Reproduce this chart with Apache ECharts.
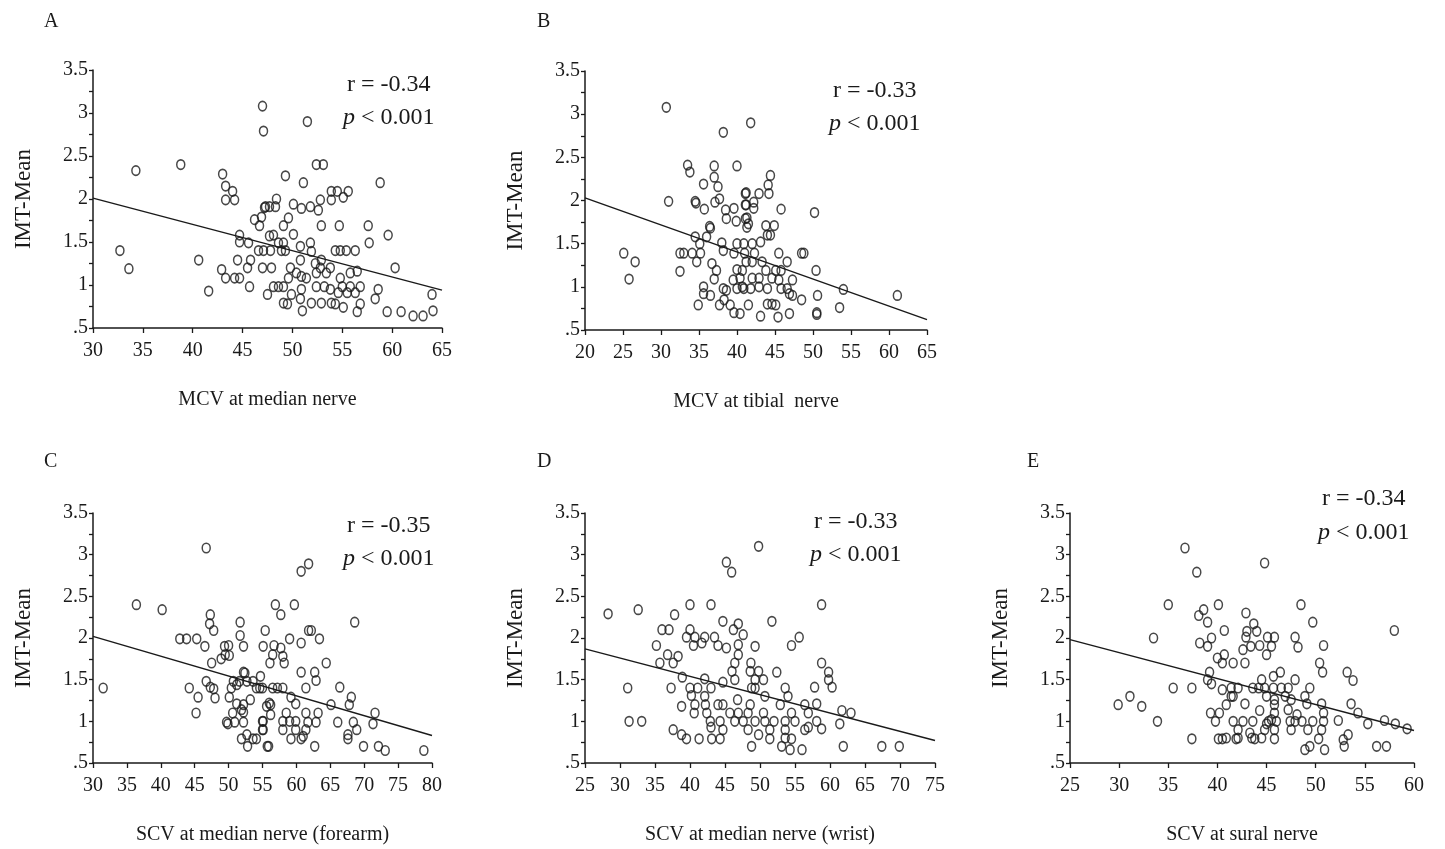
<!DOCTYPE html>
<html>
<head>
<meta charset="utf-8">
<script src="https://cdn.jsdelivr.net/npm/echarts@6/dist/echarts.min.js"></script>
<style>
  html, body { margin: 0; padding: 0; background: #fff; }
  #main { width: 1445px; height: 849px; }
</style>
</head>
<body>
<div id="main"></div>
<script>
// IMT-Mean vs nerve conduction velocity, five panels
var yTicks = [0.5, 1, 1.5, 2, 2.5, 3, 3.5];

var ptsA = [[47,3.08],[47.1,2.79],[34.3,2.33],[38.8,2.4],[43,2.29],[43.3,2.15],[44,2.09],[43.3,1.99],[44.2,1.99],[47.2,1.9],
  [46.2,1.76],[46.9,1.79],[46.7,1.69],[44.7,1.58],[44.7,1.5],[45.6,1.49],[47.7,1.57],[32.7,1.4],[33.6,1.19],[40.6,1.29],
  [44.5,1.29],[45.8,1.29],[45.5,1.2],[46.6,1.4],[47.1,1.4],[47,1.2],[42.9,1.18],[43.3,1.08],[44.2,1.08],[44.7,1.08],
  [45.7,0.98],[41.6,0.93],[47.5,0.89],[51.5,2.9],[52.4,2.4],[53.1,2.4],[49.3,2.27],[51.1,2.19],[58.8,2.19],[53.9,2.09],
  [54.5,2.09],[55.6,2.09],[53.9,1.99],[55.1,2.02],[48.4,2.0],[48.3,1.91],[47.7,1.91],[47.3,1.91],[50.1,1.94],[50.9,1.89],
  [51.8,1.91],[52.6,1.87],[52.8,1.99],[49.6,1.78],[49.1,1.69],[52.9,1.69],[54.7,1.69],[57.6,1.69],[59.6,1.58],[57.7,1.49],
  [48.1,1.58],[50.1,1.59],[48.6,1.49],[49.1,1.49],[50.8,1.45],[51.8,1.49],[47.8,1.4],[48.9,1.4],[49.3,1.4],[51.9,1.39],
  [54.3,1.4],[54.8,1.4],[55.4,1.4],[56.3,1.4],[50.8,1.29],[52.3,1.25],[52.9,1.29],[47.9,1.2],[49.8,1.2],[52.8,1.2],
  [53.8,1.2],[60.3,1.2],[50.4,1.14],[50.9,1.1],[52.4,1.14],[53.4,1.14],[55.8,1.14],[56.5,1.16],[49.6,1.08],[51.4,1.08],
  [54.8,1.08],[48.1,0.98],[48.6,0.98],[49.1,0.98],[50.9,0.95],[52.4,0.98],[53.2,0.98],[53.8,0.95],[55,0.98],[55.8,0.98],
  [56.8,0.98],[58.6,0.95],[54.6,0.91],[55.5,0.91],[56.3,0.91],[49.9,0.89],[64,0.89],[58.3,0.84],[49.1,0.79],[49.5,0.78],
  [50.8,0.84],[51.9,0.79],[52.9,0.79],[53.9,0.79],[54.3,0.78],[56.8,0.78],[51,0.7],[55.1,0.74],[56.5,0.69],[59.5,0.69],
  [60.9,0.69],[62.1,0.64],[63.1,0.64],[64.1,0.7]];

var ptsB = [[30.7,3.08],[38.2,2.79],[41.8,2.9],[33.5,2.41],[33.8,2.33],[37,2.4],[40,2.4],[37,2.27],[35.6,2.19],[37.5,2.16],
  [31,1.99],[34.5,1.99],[34.6,1.97],[35.7,1.9],[37.1,1.98],[37.7,2.02],[41.2,2.09],[41.2,1.95],[38.5,1.89],[39.6,1.91],
  [38.6,1.79],[39.9,1.76],[41.3,1.8],[36.4,1.7],[36.5,1.68],[36,1.58],[34.5,1.58],[35.1,1.5],[41.3,1.69],[38,1.51],
  [40,1.5],[40.9,1.5],[25.1,1.39],[26.6,1.29],[25.8,1.09],[32.5,1.39],[33,1.39],[34.1,1.39],[35.2,1.39],[34.7,1.29],
  [38.2,1.42],[39.6,1.39],[41,1.39],[41.2,1.29],[32.5,1.18],[36.7,1.27],[37.3,1.19],[40,1.2],[40.7,1.19],[37,1.09],
  [39.5,1.08],[40.4,1.1],[35.6,1],[35.6,0.92],[36.5,0.9],[38.2,0.98],[38.6,0.96],[40,0.98],[40.9,0.98],[34.9,0.79],
  [37.7,0.79],[38.3,0.85],[39.1,0.79],[39.6,0.7],[40.4,0.69],[41.5,0.79],[41.8,0.98],[44.4,2.29],[44.1,2.18],[44.2,2.08],
  [42.9,2.08],[41.1,2.08],[42.2,1.98],[42.2,1.91],[41.1,1.95],[45.8,1.9],[50.2,1.86],[41.1,1.79],[41.5,1.73],[43.8,1.71],
  [44.9,1.71],[44,1.6],[44.4,1.6],[43.1,1.52],[42,1.5],[42.3,1.39],[45.5,1.39],[48.5,1.39],[48.8,1.39],[46.6,1.29],
  [50.4,1.19],[42,1.29],[43.3,1.29],[45.8,1.19],[45.1,1.19],[43.8,1.19],[42.9,1.1],[42,1.1],[44.6,1.1],[45.5,1.08],
  [47.3,1.08],[40.7,1.0],[42.9,1.0],[44,0.98],[45.8,0.98],[46.6,0.98],[46.9,0.92],[47.3,0.9],[48.5,0.85],[50.6,0.9],
  [54,0.97],[61.1,0.9],[44,0.8],[44.6,0.8],[45.1,0.79],[53.5,0.76],[50.5,0.7],[50.5,0.68],[43.1,0.66],[45.4,0.65],
  [46.9,0.69]];

var ptsC = [[46.7,3.08],[36.4,2.4],[40.2,2.34],[47.3,2.28],[47.2,2.17],[47.8,2.09],[51.7,2.19],[55.4,2.09],[42.8,1.99],[43.8,1.99],
  [45.3,1.99],[46.5,1.9],[51.7,2.03],[52.2,1.9],[55.1,1.9],[49.4,1.9],[50,1.91],[49.5,1.8],[50.1,1.79],[48.9,1.75],
  [47.5,1.7],[56.1,1.7],[52.2,1.59],[52.4,1.58],[50.7,1.48],[51.6,1.48],[52.7,1.48],[53.6,1.48],[54.7,1.54],[46.7,1.48],
  [31.5,1.4],[44.2,1.4],[47.3,1.41],[47.8,1.39],[50.4,1.4],[51.2,1.44],[54.1,1.4],[54.6,1.4],[45.5,1.29],[48,1.28],
  [50.1,1.29],[51.2,1.21],[52.2,1.2],[53.2,1.26],[45.2,1.1],[50.6,1.1],[51.9,1.14],[52.2,1.11],[49.7,0.99],[49.9,0.97],
  [50.9,0.99],[52.2,0.99],[55.1,1.0],[55.6,1.18],[51.9,0.79],[52.7,0.84],[52.8,0.7],[53.6,0.79],[54.1,0.79],[55.9,0.7],
  [55.1,0.9],[60.7,2.8],[61.8,2.89],[56.9,2.4],[57.7,2.28],[59.7,2.4],[68.6,2.19],[61.8,2.09],[62.2,2.09],[63.4,1.99],
  [59,1.99],[60.7,1.94],[56.7,1.91],[57.7,1.88],[56.5,1.8],[58,1.78],[58.2,1.7],[64.4,1.7],[60.7,1.59],[62.7,1.59],
  [62.9,1.49],[61.4,1.4],[66.4,1.41],[55,1.4],[56.5,1.4],[57.2,1.4],[58,1.4],[59.2,1.29],[65.1,1.2],[68.1,1.29],
  [67.8,1.2],[56,1.22],[56.2,1.2],[58.5,1.1],[59.9,1.21],[61.4,1.1],[63.2,1.1],[71.6,1.1],[56.2,1.08],[55,1],
  [55,0.9],[58,1],[59,1],[59.9,1],[61.7,0.99],[62.9,0.99],[66.1,0.99],[68.4,0.99],[68.9,0.9],[71.3,0.97],
  [58,0.9],[59.9,0.9],[61.4,0.9],[67.6,0.84],[67.6,0.79],[59.2,0.79],[60.7,0.79],[61,0.82],[55.7,0.7],[62.7,0.7],
  [69.9,0.7],[72.1,0.7],[73.1,0.65],[78.8,0.65]];

var ptsD = [[45.2,2.91],[45.95,2.79],[49.8,3.1],[28.3,2.29],[32.6,2.34],[37.8,2.28],[40,2.4],[43,2.4],[44.7,2.2],[36,2.1],
  [37,2.1],[40,2.1],[39.5,2.01],[40.7,2.01],[41.7,1.94],[40.5,1.91],[42.1,2.01],[43.5,2.01],[44,1.91],[45.2,1.88],
  [46.2,2.1],[46.9,2.17],[47.6,2.04],[46.9,1.92],[46.9,1.8],[46.4,1.7],[46,1.6],[46.4,1.5],[49.3,1.9],[35.2,1.91],
  [36.8,1.8],[38.3,1.78],[35.7,1.7],[37.6,1.7],[48.7,1.7],[48.6,1.6],[38.9,1.53],[42.1,1.51],[44.7,1.47],[31.1,1.4],
  [37.3,1.4],[40,1.4],[41.1,1.4],[43,1.4],[40.2,1.31],[42.1,1.3],[46.8,1.26],[38.8,1.18],[40.7,1.2],[40.6,1.1],
  [42.2,1.2],[42.4,1.1],[44,1.2],[44.7,1.2],[45.7,1.1],[46.9,1.1],[48.6,1.2],[48.3,1.1],[31.3,1],[33.1,1],
  [42.9,1],[44.3,1],[44.7,0.9],[43,0.93],[46.4,1],[47.6,1],[48.3,0.9],[37.6,0.9],[38.8,0.84],[39.5,0.79],
  [41.3,0.79],[43.1,0.79],[44.3,0.79],[48.8,0.7],[58.8,2.4],[51.7,2.2],[54.5,1.91],[55.6,2.01],[58.8,1.7],[59.8,1.59],
  [59.8,1.5],[60.3,1.41],[49.8,1.6],[50.5,1.5],[49.3,1.5],[52.4,1.59],[57.8,1.41],[53.6,1.4],[54,1.3],[48.8,1.4],
  [49.3,1.4],[50.7,1.3],[52.9,1.2],[56.4,1.2],[58.1,1.21],[61.7,1.13],[63,1.1],[50.5,1.1],[54.5,1.1],[56.9,1.1],
  [49.3,1],[50.7,1],[52,1],[53.6,1],[55,1],[58.1,1],[61.4,0.97],[53.6,0.9],[56.4,0.9],[56.9,0.93],
  [58.8,0.91],[51.4,0.9],[49.8,0.84],[51.4,0.79],[53.6,0.8],[54.5,0.79],[53.1,0.7],[54.3,0.66],[56,0.66],[61.9,0.7],
  [67.4,0.7],[69.9,0.7]];

var ptsE = [[36.7,3.08],[37.9,2.79],[35,2.4],[40.1,2.4],[38.6,2.34],[38.1,2.27],[39,2.19],[40.7,2.09],[33.5,2],[38.2,1.94],
  [39,1.9],[39.4,2],[40,1.76],[40.7,1.8],[40.5,1.7],[41.6,1.7],[39.2,1.59],[39,1.5],[39.4,1.45],[35.5,1.4],
  [37.4,1.4],[40.5,1.38],[41.4,1.4],[41.6,1.3],[31.1,1.3],[29.9,1.2],[32.3,1.18],[33.9,1],[40.9,1.2],[39.3,1.1],
  [40.2,1.1],[39.8,1],[41.6,1],[37.4,0.79],[40.1,0.79],[40.5,0.79],[41.9,0.79],[42.9,2.3],[43.7,2.17],[44,2.08],
  [43,2.08],[42.9,2.01],[45.1,2.01],[45.8,2.01],[45.5,1.9],[45,1.8],[43.4,1.9],[44.3,1.91],[42.6,1.86],[47.9,2.01],
  [48.2,1.89],[50.8,1.91],[42.8,1.7],[50.4,1.7],[50.7,1.59],[53.2,1.59],[53.8,1.49],[46.4,1.59],[45.7,1.54],[44.5,1.5],
  [44.2,1.4],[47.9,1.5],[43.6,1.4],[42.1,1.4],[44.8,1.4],[45.7,1.4],[46.5,1.4],[47.2,1.4],[49.4,1.4],[41.4,1.3],
  [42.8,1.21],[45,1.3],[45.8,1.26],[46.9,1.3],[47.5,1.26],[48.9,1.3],[49.1,1.21],[50.6,1.21],[53.6,1.21],[44.3,1.13],
  [45.8,1.2],[45.8,1.1],[45.5,1.02],[45,0.97],[47.2,1.14],[48.1,1.08],[54.3,1.1],[42.6,1],[43.6,1],[45.2,1],
  [46,1],[47.4,1],[47.9,1],[48.6,1],[49.7,1],[50.8,1.1],[50.8,1],[52.3,1.01],[55.3,0.97],[57,1.01],
  [58.1,0.97],[59.3,0.91],[42.1,0.9],[43.3,0.86],[44.8,0.9],[45.8,0.9],[47.5,0.9],[49.2,0.9],[50.6,0.9],[40.9,0.8],
  [42.1,0.8],[43.5,0.8],[43.8,0.79],[44.5,0.8],[45.8,0.79],[50.3,0.79],[52.8,0.78],[53.3,0.84],[48.9,0.66],[49.4,0.7],
  [50.9,0.66],[52.9,0.7],[56.2,0.7],[57.2,0.7],[58,2.09],[44.8,2.9],[48.5,2.4],[49.7,2.19]];

// fitted lines, end points
var lineA = [[30,2.01],[65,0.94]];
var lineB = [[20,2.03],[65,0.62]];
var lineC = [[30,2.02],[80,0.83]];
var lineD = [[25,1.87],[75,0.77]];
var lineE = [[25,1.98],[60,0.89]];

var letters = ['A','B','C','D','E'];
var xNames = ['MCV at median nerve','MCV at tibial  nerve','SCV at median nerve (forearm)','SCV at median nerve (wrist)','SCV at sural nerve'];
var xMin = [30,20,30,25,25];
var xMax = [65,65,80,75,60];
var rText = ['r = -0.34','r = -0.33','r = -0.35','r = -0.33','r = -0.34'];

var panels = [
  {pts: ptsA, line: lineA, grid: {left: 93, top: 70, width: 349, height: 258}, r: [347, 73], p: [343, 106], tag: [44, 12]},
  {pts: ptsB, line: lineB, grid: {left: 585, top: 71, width: 342, height: 259}, r: [833, 79], p: [829, 112], tag: [537, 12]},
  {pts: ptsC, line: lineC, grid: {left: 93, top: 513, width: 339, height: 250}, r: [347, 514], p: [343, 547], tag: [44, 452]},
  {pts: ptsD, line: lineD, grid: {left: 585, top: 513, width: 350, height: 250}, r: [814, 510], p: [810, 543], tag: [537, 452]},
  {pts: ptsE, line: lineE, grid: {left: 1070, top: 513, width: 344, height: 250}, r: [1322, 487], p: [1318, 521], tag: [1027, 452]}
];

var font = "'Liberation Serif', 'Times New Roman', serif";
var ink = '#1a1a1a';

var dom = document.getElementById('main');
var myChart = echarts.init(dom);

var grids = [], xAxes = [], yAxes = [], series = [], graphics = [];
for (var i = 0; i < panels.length; i++) {
  var pn = panels[i];
  grids.push(pn.grid);
  xAxes.push({
    gridIndex: i, type: 'value', min: xMin[i], max: xMax[i], interval: 5,
    name: xNames[i], nameLocation: 'middle', nameGap: 62,
    nameTextStyle: {fontFamily: font, fontSize: 20, color: ink},
    axisLine: {show: true, onZero: false, lineStyle: {color: ink, width: 1.5}},
    axisTick: {show: true, length: 5, lineStyle: {color: ink, width: 1.3}},
    axisLabel: {fontFamily: font, fontSize: 20, color: ink, margin: 13},
    splitLine: {show: false}
  });
  yAxes.push({
    gridIndex: i, type: 'value', min: yTicks[0], max: yTicks[yTicks.length - 1], interval: 0.5,
    name: 'IMT-Mean', nameLocation: 'middle', nameGap: 58, nameRotate: 90,
    nameTextStyle: {fontFamily: font, fontSize: 23, color: ink},
    axisLine: {show: true, onZero: false, lineStyle: {color: ink, width: 1.5}},
    axisTick: {show: true, length: 4, lineStyle: {color: ink, width: 1.3}},
    minorTick: {show: true, splitNumber: 2, length: 4, lineStyle: {color: ink, width: 1.3}},
    axisLabel: {
      fontFamily: font, fontSize: 20, color: ink, margin: 5,
      formatter: function (v) { return v === 0.5 ? '.5' : String(v); }
    },
    splitLine: {show: false}
  });
  series.push({
    type: 'scatter', xAxisIndex: i, yAxisIndex: i, data: pn.pts,
    symbol: 'circle', symbolSize: [8, 9.5],
    itemStyle: {color: 'rgba(255,255,255,0)', borderColor: ink, borderWidth: 1.6},
    silent: true
  });
  series.push({
    type: 'line', xAxisIndex: i, yAxisIndex: i, data: pn.line,
    showSymbol: false, lineStyle: {color: ink, width: 1.4}, silent: true
  });
  graphics.push({type: 'text', left: pn.tag[0], top: pn.tag[1],
    style: {text: letters[i], font: '20px ' + font, fill: ink}});
  graphics.push({type: 'text', left: pn.r[0], top: pn.r[1],
    style: {text: rText[i], font: '24px ' + font, fill: ink}});
  graphics.push({type: 'text', left: pn.p[0], top: pn.p[1],
    style: {text: '{i|p} < 0.001', font: '24px ' + font, fill: ink,
      rich: {i: {fontStyle: 'italic', fontFamily: font, fontSize: 24, fill: ink}}}});
}

option = {
  backgroundColor: '#fff',
  animation: false,
  grid: grids,
  xAxis: xAxes,
  yAxis: yAxes,
  series: series,
  graphic: graphics
};
if (option && typeof option === "object") {
  myChart.setOption(option, true);
}
</script>
</body>
</html>
